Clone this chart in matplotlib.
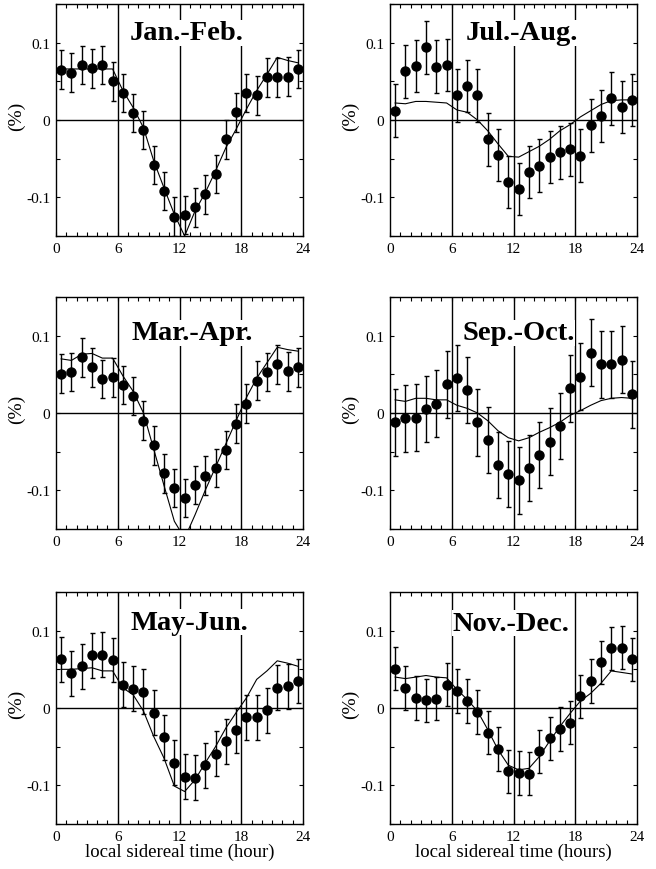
import matplotlib
matplotlib.use("Agg")
import matplotlib.pyplot as plt
from matplotlib.ticker import MultipleLocator

plt.rcParams["font.family"] = ["Liberation Serif", "DejaVu Serif"]
plt.rcParams["axes.unicode_minus"] = False

# local sidereal time bins (hour centres)
hours = [h + 0.5 for h in range(24)]

titles = ["Jan.-Feb.", "Jul.-Aug.", "Mar.-Apr.", "Sep.-Oct.", "May-Jun.", "Nov.-Dec."]

# measured anisotropy (%) per panel
jan_feb = [0.065, 0.061, 0.071, 0.067, 0.071, 0.050, 0.035, 0.009, -0.013, -0.058,
           -0.092, -0.125, -0.123, -0.113, -0.096, -0.070, -0.025, 0.010, 0.035, 0.032,
           0.055, 0.055, 0.056, 0.066]
jul_aug = [0.012, 0.063, 0.070, 0.094, 0.069, 0.071, 0.032, 0.044, 0.032, -0.025,
           -0.045, -0.080, -0.089, -0.067, -0.059, -0.048, -0.042, -0.038, -0.046, -0.007,
           0.005, 0.028, 0.017, 0.026]
mar_apr = [0.051, 0.053, 0.072, 0.059, 0.044, 0.046, 0.036, 0.022, -0.010, -0.042,
           -0.078, -0.097, -0.110, -0.093, -0.081, -0.071, -0.048, -0.014, 0.012, 0.042,
           0.053, 0.063, 0.054, 0.059]
sep_oct = [-0.012, -0.007, -0.006, 0.005, 0.012, 0.037, 0.045, 0.030, -0.012, -0.035,
           -0.067, -0.079, -0.087, -0.071, -0.054, -0.037, -0.017, 0.032, 0.047, 0.078,
           0.063, 0.063, 0.069, 0.024]
may_jun = [0.063, 0.045, 0.054, 0.068, 0.069, 0.062, 0.030, 0.025, 0.021, -0.006,
           -0.038, -0.071, -0.089, -0.090, -0.074, -0.059, -0.043, -0.029, -0.012, -0.012,
           -0.003, 0.026, 0.028, 0.035]
nov_dec = [0.051, 0.026, 0.013, 0.010, 0.012, 0.030, 0.022, 0.009, -0.005, -0.032,
           -0.053, -0.082, -0.084, -0.085, -0.056, -0.039, -0.027, -0.019, 0.015, 0.035,
           0.059, 0.077, 0.078, 0.063]

# error bar half widths
errors = [0.025, 0.034, 0.025, 0.043, 0.029, 0.028]

# expected curves
fit_jan_feb = [0.066, 0.066, 0.066, 0.066, 0.066, 0.066, 0.038, 0.016, -0.010, -0.053,
               -0.088, -0.122, -0.150, -0.118, -0.094, -0.066, -0.036, -0.012, 0.014, 0.038,
               0.059, 0.081, 0.077, 0.074]
fit_jul_aug = [0.022, 0.021, 0.024, 0.024, 0.023, 0.022, 0.013, 0.010, 0.000, -0.014,
               -0.031, -0.047, -0.048, -0.041, -0.034, -0.025, -0.014, -0.006, 0.004, 0.012,
               0.020, 0.025, 0.026, 0.026]
fit_mar_apr = [0.070, 0.068, 0.076, 0.077, 0.071, 0.071, 0.048, 0.028, 0.000, -0.047,
               -0.094, -0.140, -0.162, -0.132, -0.100, -0.070, -0.040, -0.010, 0.020, 0.045,
               0.065, 0.085, 0.082, 0.080]
fit_sep_oct = [0.017, 0.015, 0.019, 0.019, 0.017, 0.017, 0.010, 0.006, 0.000, -0.010,
               -0.023, -0.032, -0.036, -0.032, -0.025, -0.019, -0.012, -0.003, 0.003, 0.010,
               0.016, 0.019, 0.020, 0.019]
fit_may_jun = [0.050, 0.050, 0.051, 0.052, 0.048, 0.048, 0.026, 0.017, -0.004, -0.037,
               -0.065, -0.101, -0.108, -0.093, -0.071, -0.050, -0.026, -0.006, 0.013, 0.037,
               0.048, 0.061, 0.058, 0.054]
fit_nov_dec = [0.040, 0.038, 0.040, 0.042, 0.040, 0.039, 0.024, 0.011, -0.004, -0.028,
               -0.054, -0.074, -0.080, -0.078, -0.063, -0.043, -0.024, -0.007, 0.009, 0.019,
               0.032, 0.048, 0.046, 0.044]

data = [jan_feb, jul_aug, mar_apr, sep_oct, may_jun, nov_dec]
fits = [fit_jan_feb, fit_jul_aug, fit_mar_apr, fit_sep_oct, fit_may_jun, fit_nov_dec]
title_pos = [(0.53, 0.875), (0.535, 0.875), (0.55, 0.845), (0.52, 0.845), (0.54, 0.87), (0.49, 0.865)]
xlabels = [None, None, None, None, "local sidereal time (hour)", "local sidereal time (hours)"]

W, H = 656, 870
fig = plt.figure(figsize=(W / 100, H / 100), dpi=100)

lefts = [56, 390]
tops = [5, 298, 593]
aw, ah = 247, 232

for i in range(6):
    row, col = divmod(i, 2)
    x0 = lefts[col]
    y0 = tops[row]
    ax = fig.add_axes([x0 / W, 1 - (y0 + ah) / H, aw / W, ah / H])

    ax.axhline(0, color="black", linewidth=1.0, zorder=1)
    for v in (6, 12, 18):
        ax.axvline(v, color="black", linewidth=1.0, zorder=1)

    ax.plot(hours, fits[i], color="black", linewidth=0.8, zorder=2)
    ax.errorbar(hours, data[i], yerr=errors[i], fmt="o", color="black",
                markersize=6.5, elinewidth=1.0, capsize=1.8, capthick=1.0, zorder=3)

    ax.set_xlim(0, 24)
    ax.set_ylim(-0.15, 0.15)
    ax.set_xticks([0, 6, 12, 18, 24])
    ax.xaxis.set_minor_locator(MultipleLocator(1))
    ax.set_yticks([-0.1, 0, 0.1])
    ax.set_yticklabels(["-0.1", "0", "0.1"])
    ax.yaxis.set_minor_locator(MultipleLocator(0.05))
    ax.tick_params(which="both", direction="in", top=True, right=True,
                   labelsize=11, width=0.8)
    ax.tick_params(which="major", length=3, pad=4)
    ax.tick_params(which="minor", length=3)
    for s in ax.spines.values():
        s.set_linewidth(1.0)

    ax.set_ylabel("(%)", fontsize=14)
    ax.yaxis.set_label_coords(-0.125, 0.52)
    if xlabels[i]:
        ax.set_xlabel(xlabels[i], fontsize=13.5, labelpad=0)

    tx, ty = title_pos[i]
    ax.text(tx, ty, titles[i], transform=ax.transAxes, ha="center", va="center",
            fontsize=20.5, fontweight="bold", zorder=4,
            bbox={"facecolor": "white", "edgecolor": "none", "pad": 0.5})

fig.savefig("out.png", dpi=100, facecolor="white")
